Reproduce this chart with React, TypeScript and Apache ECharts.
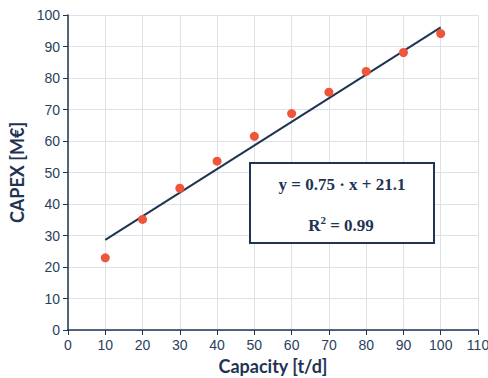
import React, { useEffect, useRef } from "react";
import * as echarts from "echarts";

const capacity = [10, 20, 30, 40, 50, 60, 70, 80, 90, 100];
const capex = [22.9, 35.1, 45.0, 53.6, 61.5, 68.7, 75.5, 82.1, 88.1, 94.1];
const fitLine = [
  [10, 28.6],
  [100, 96.1],
];
const equationText = "y = 0.75 · x + 21.1";
const r2Value = "0.99";

const navy = "#1f3453";
const tickColor = "#2a3f5f";

export default function App() {
  const ref = useRef<HTMLDivElement>(null);
  useEffect(() => {
    document.body.style.margin = "0";
    document.body.style.overflow = "hidden";
    if (!ref.current) return;
    const chart = echarts.init(ref.current, undefined, { renderer: "svg" });
    chart.setOption({
      animation: false,
      backgroundColor: "#ffffff",
      grid: {
        left: 68,
        right: 10,
        top: 15,
        bottom: 48,
        containLabel: false,
        outerBoundsMode: "none",
      },
      xAxis: {
        type: "value",
        min: 0,
        max: 110,
        interval: 10,
        name: "Capacity [t/d]",
        nameLocation: "middle",
        nameGap: 25,
        nameTextStyle: { fontFamily: "Lato", fontWeight: "bold", fontSize: 18, color: navy },
        axisLine: { show: true, lineStyle: { color: navy, width: 1.5 } },
        axisTick: { show: true, length: 5, lineStyle: { color: navy } },
        axisLabel: { fontFamily: "Liberation Sans", fontSize: 14, color: tickColor, margin: 8 },
        splitLine: { show: true, lineStyle: { color: "#dde1e8", width: 1 } },
      },
      yAxis: {
        type: "value",
        min: 0,
        max: 100,
        interval: 10,
        name: "CAPEX [M€]",
        nameLocation: "middle",
        nameGap: 42,
        nameTextStyle: { fontFamily: "Lato", fontWeight: "bold", fontSize: 18, color: navy },
        axisLine: { show: true, lineStyle: { color: navy, width: 1.5 } },
        axisTick: { show: true, length: 5, lineStyle: { color: navy } },
        axisLabel: { fontFamily: "Liberation Sans", fontSize: 14, color: tickColor, margin: 8 },
        splitLine: { show: true, lineStyle: { color: "#dde1e8", width: 1 } },
      },
      series: [
        {
          type: "line",
          data: fitLine,
          symbol: "none",
          lineStyle: { color: navy, width: 2 },
          z: 2,
        },
        {
          type: "scatter",
          data: capacity.map((c, i) => [c, capex[i]]),
          symbolSize: 9,
          itemStyle: { color: "#ef553b", opacity: 1 },
          z: 3,
        },
      ],
      graphic: [
        {
          type: "rect",
          shape: { x: 250, y: 163, width: 184, height: 80 },
          style: { fill: "#ffffff", stroke: navy, lineWidth: 2 },
          z: 10,
        },
        {
          type: "text",
          x: 342,
          y: 184,
          style: {
            text: equationText,
            font: "bold 17px 'Liberation Serif'",
            fill: navy,
            align: "center",
            verticalAlign: "middle",
          },
          z: 11,
        },
        {
          type: "text",
          x: 341,
          y: 224,
          style: {
            text: "{b|R}{s|2}{b| = " + r2Value + "}",
            align: "center",
            verticalAlign: "middle",
            rich: {
              b: { font: "bold 17px 'Liberation Serif'", fill: navy, verticalAlign: "bottom" },
              s: { font: "bold 11px 'Liberation Serif'", fill: navy, padding: [0, 0, 8, 0] },
            },
          },
          z: 11,
        },
      ],
    });
    return () => chart.dispose();
  }, []);
  return (
    <div
      ref={ref}
      style={{ position: "absolute", left: 0, top: 0, width: 488, height: 378 }}
    />
  );
}
